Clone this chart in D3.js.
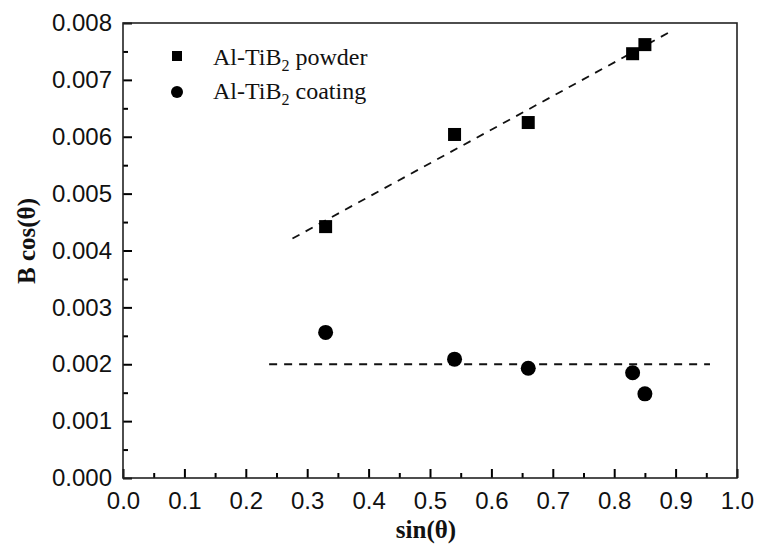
<!DOCTYPE html>
<html>
<head>
<meta charset="utf-8">
<script src="https://cdn.jsdelivr.net/npm/d3@7"></script>
<style>
  body { margin: 0; background: #fff; }
  svg { display: block; }
  .axis text { font-family: "Liberation Sans", Arial, sans-serif; font-size: 24px; fill: #111; }
  .axis .tick line { stroke: #000; stroke-width: 2; }
  .axis path { display: none; }
  .title { font-family: "Liberation Serif", "Times New Roman", serif; font-weight: bold; font-size: 25px; fill: #111; }
  .legend { font-family: "Liberation Serif", "Times New Roman", serif; font-size: 24px; fill: #111; }
</style>
</head>
<body>
<svg width="757" height="549"></svg>
<script>
// sin(theta) positions of the peaks
const sinTheta = [0.33, 0.54, 0.66, 0.83, 0.85];
const powder = [0.00442, 0.00604, 0.00625, 0.00746, 0.00762];
const coating = [0.00256, 0.00209, 0.00193, 0.00185, 0.00148];

// dashed fit lines, endpoints
const powderFit = [[0.276, 0.00421], [0.892, 0.00785]];
const coatingFit = [[0.238, 0.002], [0.956, 0.002]];

const xTicks = [0, 0.1, 0.2, 0.3, 0.4, 0.5, 0.6, 0.7, 0.8, 0.9, 1.0];
const yTicks = [0, 0.001, 0.002, 0.003, 0.004, 0.005, 0.006, 0.007, 0.008];
const xMinor = [0.05, 0.15, 0.25, 0.35, 0.45, 0.55, 0.65, 0.75, 0.85, 0.95];
const yMinor = [0.0005, 0.0015, 0.0025, 0.0035, 0.0045, 0.0055, 0.0065, 0.0075];

const svg = d3.select("svg");
const pLeft = 123, pRight = 737, pTop = 23, pBottom = 478;

const x = d3.scaleLinear().domain([0, 1]).range([pLeft, pRight]);
const y = d3.scaleLinear().domain([0, 0.008]).range([pBottom, pTop]);

// axes: ticks point inward, labels outside
svg.append("g").attr("class", "axis")
    .attr("transform", `translate(0,${pBottom})`)
    .call(d3.axisBottom(x).tickValues(xTicks).tickSizeInner(-9).tickSizeOuter(0).tickPadding(14)
        .tickFormat(d3.format(".1f")));
svg.append("g").attr("class", "axis")
    .attr("transform", `translate(0,${pBottom})`)
    .call(d3.axisBottom(x).tickValues(xMinor).tickSizeInner(-5).tickSizeOuter(0).tickFormat(""));
svg.append("g").attr("class", "axis")
    .attr("transform", `translate(${pLeft},0)`)
    .call(d3.axisLeft(y).tickValues(yTicks).tickSizeInner(-9).tickSizeOuter(0).tickPadding(11)
        .tickFormat(d3.format(".3f")));
svg.append("g").attr("class", "axis")
    .attr("transform", `translate(${pLeft},0)`)
    .call(d3.axisLeft(y).tickValues(yMinor).tickSizeInner(-5).tickSizeOuter(0).tickFormat(""));

// d3 axis sets stroke via attribute; make sure it is dark
svg.selectAll(".axis .tick line").attr("stroke", "#000").attr("stroke-width", 2);

// frame
svg.append("rect")
    .attr("x", pLeft).attr("y", pTop)
    .attr("width", pRight - pLeft).attr("height", pBottom - pTop)
    .attr("fill", "none").attr("stroke", "#222").attr("stroke-width", 1.6);

// axis titles
svg.append("text").attr("class", "title")
    .attr("x", 426).attr("y", 538)
    .attr("text-anchor", "middle")
    .text("sin(θ)");
svg.append("text").attr("class", "title")
    .attr("transform", "translate(35,241) rotate(-90)")
    .attr("text-anchor", "middle")
    .text("B cos(θ)");

// fit lines
const line = d3.line().x(d => x(d[0])).y(d => y(d[1]));
[powderFit, coatingFit].forEach(pts => {
    svg.append("path")
        .attr("d", line(pts))
        .attr("fill", "none").attr("stroke", "#111")
        .attr("stroke-width", 1.8)
        .attr("stroke-dasharray", "8,7");
});

// points
const sq = 13;
svg.selectAll(".sq").data(sinTheta).enter().append("rect")
    .attr("x", (d) => x(d) - sq / 2)
    .attr("y", (d, i) => y(powder[i]) - sq / 2)
    .attr("width", sq).attr("height", sq)
    .attr("fill", "#000");
svg.selectAll(".ci").data(sinTheta).enter().append("circle")
    .attr("cx", d => x(d))
    .attr("cy", (d, i) => y(coating[i]))
    .attr("r", 7.5)
    .attr("fill", "#000");

// legend
svg.append("rect").attr("x", 172).attr("y", 51).attr("width", 10).attr("height", 10).attr("fill", "#000");
svg.append("circle").attr("cx", 177).attr("cy", 92).attr("r", 6).attr("fill", "#000");

const legendItems = [["powder", 65], ["coating", 99]];
legendItems.forEach(([word, yy]) => {
    const t = svg.append("text").attr("class", "legend").attr("x", 213).attr("y", yy);
    t.append("tspan").text("Al-TiB");
    t.append("tspan").attr("dy", 6).attr("font-size", 16).text("2");
    t.append("tspan").attr("dy", -6).text(" " + word);
});
</script>
</body>
</html>
